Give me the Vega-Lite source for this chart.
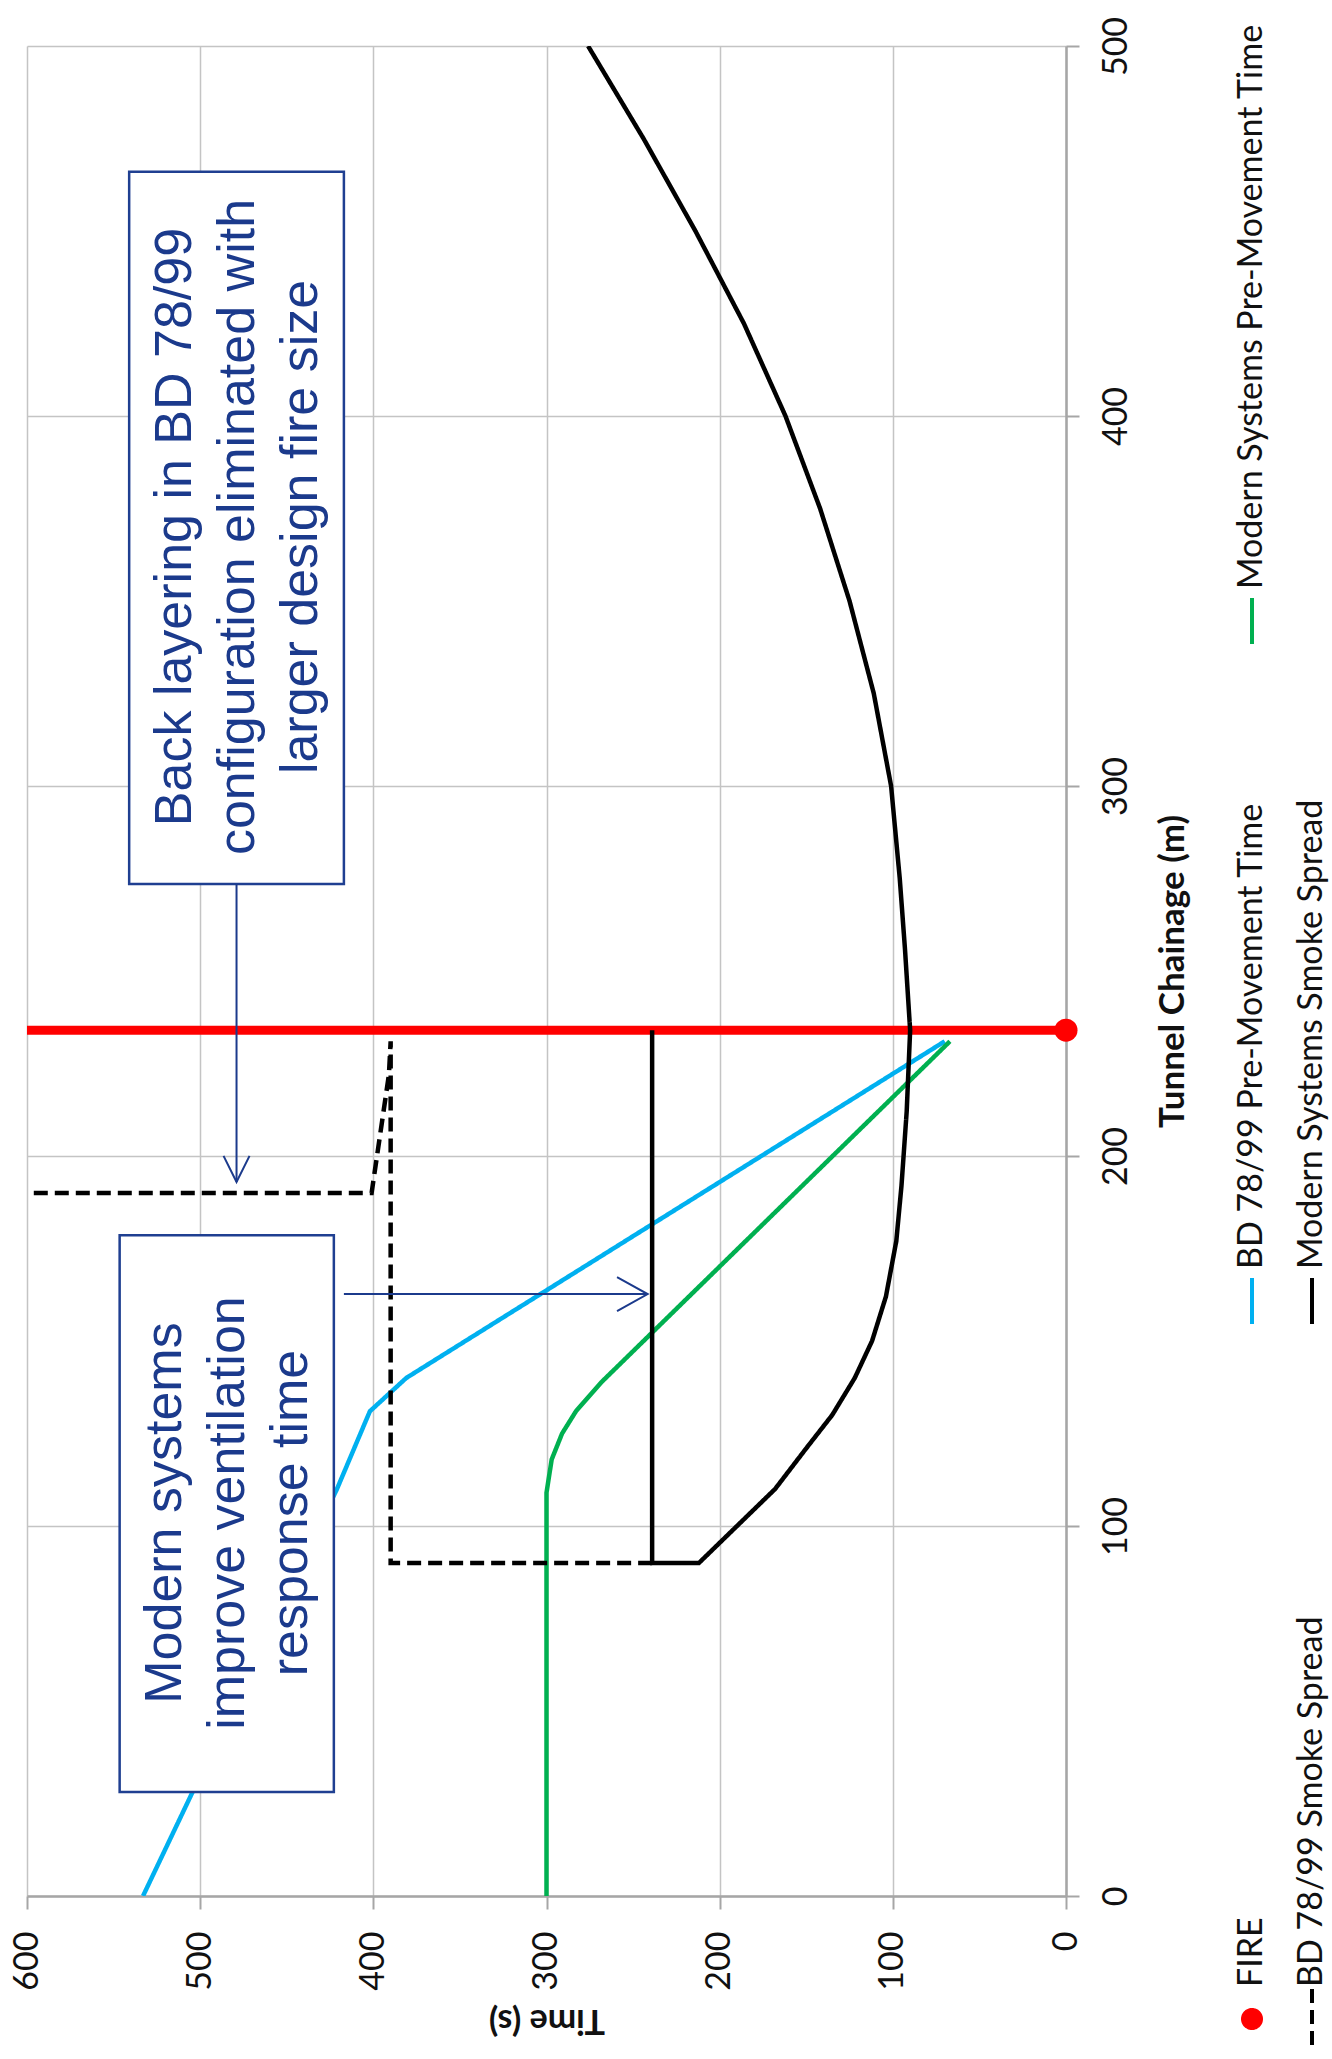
{
  "$schema": "https://vega.github.io/schema/vega-lite/v6.json",
  "width": 1039,
  "height": 1850,
  "autosize": {"type": "none"},
  "padding": {"left": 27, "top": 46, "right": 266, "bottom": 163},
  "background": "white",
  "config": {"view": {"stroke": null}, "font": "Lato"},
  "datasets": {
    "lines": [
      {"series": "BD 78/99 Pre-Movement Time", "c": 0, "t": 533, "seq": 1},
      {"series": "BD 78/99 Pre-Movement Time", "c": 110, "t": 421, "seq": 2},
      {"series": "BD 78/99 Pre-Movement Time", "c": 131, "t": 402, "seq": 3},
      {"series": "BD 78/99 Pre-Movement Time", "c": 140, "t": 381, "seq": 4},
      {"series": "BD 78/99 Pre-Movement Time", "c": 231, "t": 70, "seq": 5},
      {"series": "Modern Systems Pre-Movement Time", "c": 0, "t": 300, "seq": 1},
      {"series": "Modern Systems Pre-Movement Time", "c": 109, "t": 300, "seq": 2},
      {"series": "Modern Systems Pre-Movement Time", "c": 118, "t": 297, "seq": 3},
      {"series": "Modern Systems Pre-Movement Time", "c": 125, "t": 291, "seq": 4},
      {"series": "Modern Systems Pre-Movement Time", "c": 131, "t": 283, "seq": 5},
      {"series": "Modern Systems Pre-Movement Time", "c": 139, "t": 268, "seq": 6},
      {"series": "Modern Systems Pre-Movement Time", "c": 231, "t": 67, "seq": 7},
      {"series": "Modern Systems Smoke Spread", "c": 234, "t": 239, "seq": 1},
      {"series": "Modern Systems Smoke Spread", "c": 90, "t": 239, "seq": 2},
      {"series": "Modern Systems Smoke Spread", "c": 90, "t": 212, "seq": 3},
      {"series": "Modern Systems Smoke Spread", "c": 110, "t": 168, "seq": 4},
      {"series": "Modern Systems Smoke Spread", "c": 121, "t": 150, "seq": 5},
      {"series": "Modern Systems Smoke Spread", "c": 130, "t": 135, "seq": 6},
      {"series": "Modern Systems Smoke Spread", "c": 140, "t": 122, "seq": 7},
      {"series": "Modern Systems Smoke Spread", "c": 150, "t": 112, "seq": 8},
      {"series": "Modern Systems Smoke Spread", "c": 162, "t": 104, "seq": 9},
      {"series": "Modern Systems Smoke Spread", "c": 177, "t": 98, "seq": 10},
      {"series": "Modern Systems Smoke Spread", "c": 192, "t": 95, "seq": 11},
      {"series": "Modern Systems Smoke Spread", "c": 212, "t": 92, "seq": 12},
      {"series": "Modern Systems Smoke Spread", "c": 234, "t": 90, "seq": 13},
      {"series": "Modern Systems Smoke Spread", "c": 256, "t": 93, "seq": 14},
      {"series": "Modern Systems Smoke Spread", "c": 275, "t": 96, "seq": 15},
      {"series": "Modern Systems Smoke Spread", "c": 300, "t": 101, "seq": 16},
      {"series": "Modern Systems Smoke Spread", "c": 325, "t": 111, "seq": 17},
      {"series": "Modern Systems Smoke Spread", "c": 350, "t": 125, "seq": 18},
      {"series": "Modern Systems Smoke Spread", "c": 375, "t": 142, "seq": 19},
      {"series": "Modern Systems Smoke Spread", "c": 400, "t": 162, "seq": 20},
      {"series": "Modern Systems Smoke Spread", "c": 425, "t": 186, "seq": 21},
      {"series": "Modern Systems Smoke Spread", "c": 450, "t": 214, "seq": 22},
      {"series": "Modern Systems Smoke Spread", "c": 475, "t": 244, "seq": 23},
      {"series": "Modern Systems Smoke Spread", "c": 500, "t": 276, "seq": 24},
      {"series": "BD 78/99 Smoke Spread", "c": 90, "t": 239, "seq": 1},
      {"series": "BD 78/99 Smoke Spread", "c": 90, "t": 390, "seq": 2},
      {"series": "BD 78/99 Smoke Spread", "c": 231, "t": 390, "seq": 3},
      {"series": "BD 78/99 Smoke Spread", "c": 222, "t": 391, "seq": 4},
      {"series": "BD 78/99 Smoke Spread", "c": 190, "t": 401, "seq": 5},
      {"series": "BD 78/99 Smoke Spread", "c": 190, "t": 600, "seq": 6}
    ],
    "fire": [
      {"series": "FIRE", "c": 234, "t": 0, "tStart": 600}
    ]
  },
  "layer": [
    {
      "data": {"name": "fire"},
      "mark": {"type": "rule", "color": "#FF0000", "strokeWidth": 9},
      "encoding": {
        "x": {"field": "tStart", "type": "quantitative", "scale": {"domain": [0, 600], "reverse": true, "nice": false}},
        "x2": {"field": "t"},
        "y": {"field": "c", "type": "quantitative", "scale": {"domain": [0, 500], "nice": false}}
      }
    },
    {
      "data": {"name": "lines"},
      "mark": {"type": "line", "strokeWidth": 4.5, "clip": true},
      "encoding": {
        "x": {
          "field": "t", "type": "quantitative",
          "scale": {"domain": [0, 600], "reverse": true, "nice": false},
          "axis": {
            "title": "Time (s)", "values": [0, 100, 200, 300, 400, 500, 600],
            "labelAngle": -90, "labelAlign": "right", "labelBaseline": "middle",
            "labelFont": "Lato", "labelFontSize": 34, "labelColor": "#111111", "labelPadding": 22,
            "labelFlush": false, "labelOverlap": false,
            "tickSize": 13, "tickWidth": 2, "tickColor": "#a6a6a6",
            "domainColor": "#a6a6a6", "domainWidth": 2.5,
            "grid": true, "gridColor": "#c4c4c4", "gridWidth": 1.5,
            "titleFont": "Lato", "titleFontSize": 34, "titleFontWeight": "bold", "titleColor": "#111111",
            "titleAngle": 180, "titleBaseline": "bottom", "titlePadding": 12
          }
        },
        "y": {
          "field": "c", "type": "quantitative",
          "scale": {"domain": [0, 500], "nice": false},
          "axis": {
            "orient": "right", "title": "Tunnel Chainage (m)", "values": [0, 100, 200, 300, 400, 500],
            "labelAngle": -90, "labelAlign": "center", "labelBaseline": "top",
            "labelFont": "Lato", "labelFontSize": 34, "labelColor": "#111111", "labelPadding": 20,
            "labelFlush": false, "labelOverlap": false,
            "tickSize": 13, "tickWidth": 2, "tickColor": "#a6a6a6",
            "domainColor": "#a6a6a6", "domainWidth": 2.5,
            "grid": true, "gridColor": "#c4c4c4", "gridWidth": 1.5,
            "titleFont": "Lato", "titleFontSize": 35, "titleFontWeight": "bold", "titleColor": "#111111",
            "titleAngle": -90, "titleBaseline": "top", "titlePadding": 22
          }
        },
        "order": {"field": "seq", "type": "quantitative"},
        "strokeDash": {
          "field": "series", "type": "nominal", "legend": null,
          "scale": {
            "domain": ["Modern Systems Pre-Movement Time", "BD 78/99 Pre-Movement Time", "FIRE", " ", "Modern Systems Smoke Spread", "BD 78/99 Smoke Spread"],
            "range": [[1, 0], [1, 0], [1, 0], [1, 0], [1, 0], [14, 7]]
          }
        },
        "color": {
          "field": "series", "type": "nominal",
          "scale": {
            "domain": ["Modern Systems Pre-Movement Time", "BD 78/99 Pre-Movement Time", "FIRE", " ", "Modern Systems Smoke Spread", "BD 78/99 Smoke Spread"],
            "range": ["#00B050", "#00B0F0", "#FF0000", "#FFFFFF", "#000000", "#000000"]
          },
          "legend": {
            "orient": "none", "legendX": 1200, "legendY": 550,
            "direction": "vertical", "columns": 2, "title": null, "padding": 0,
            "rowPadding": 10, "columnPadding": 17,
            "symbolSize": 2116, "symbolStrokeWidth": 4, "symbolType": "stroke",
            "labelFont": "Lato", "labelFontSize": 34, "labelColor": "#111111",
            "labelOffset": -25, "labelLimit": 2000, "labelAlign": "left", "labelBaseline": "middle",
            "encode": {
              "labels": {
                "update": {
                  "angle": {"value": -90},
                  "dx": {"value": 32}
                }
              },
              "symbols": {
                "update": {
                  "shape": {"signal": "datum.value === 'FIRE' ? 'M0,-74.2M1,0A1,1,0,1,1,-1,0A1,1,0,1,1,1,0Z' : (datum.value === 'Modern Systems Pre-Movement Time' || datum.value === ' ') ? 'M0,-1L0,1' : datum.value === 'BD 78/99 Smoke Spread' ? 'M0,-29.05M0,-1.3L0,1.3' : 'M0,-27.43M0,-1L0,1'"},
                  "size": {"signal": "datum.value === 'FIRE' ? 324 : 2116"},
                  "fill": {"signal": "datum.value === 'FIRE' ? '#FF0000' : 'transparent'"},
                  "strokeDash": {"signal": "datum.value === 'BD 78/99 Smoke Spread' ? [8, 5] : [1, 0]"},
                  "opacity": {"signal": "datum.value === ' ' ? 0 : 1"}
                }
              }
            }
          }
        }
      }
    },
    {
      "data": {"name": "fire"},
      "mark": {"type": "point", "filled": true, "color": "#FF0000", "size": 530, "opacity": 1},
      "encoding": {
        "x": {"field": "t", "type": "quantitative", "scale": {"domain": [0, 600], "reverse": true, "nice": false}},
        "y": {"field": "c", "type": "quantitative", "scale": {"domain": [0, 500], "nice": false}}
      }
    },
    {
      "data": {"values": [{}]},
      "mark": {"type": "rect", "fill": "#FFFFFF", "stroke": "#1f3f91", "strokeWidth": 2.5},
      "encoding": {
        "x": {"datum": 541, "type": "quantitative"},
        "x2": {"datum": 417},
        "y": {"datum": 466, "type": "quantitative"},
        "y2": {"datum": 273.5}
      }
    },
    {
      "data": {"values": [{}]},
      "mark": {"type": "rect", "fill": "#FFFFFF", "stroke": "#1f3f91", "strokeWidth": 2.5},
      "encoding": {
        "x": {"datum": 546.5, "type": "quantitative"},
        "x2": {"datum": 422.8},
        "y": {"datum": 178.6, "type": "quantitative"},
        "y2": {"datum": 28.1}
      }
    },
    {
      "data": {"values": [{}]},
      "mark": {"type": "text", "text": ["Back layering in BD 78/99", "configuration eliminated with", "larger design fire size"], "angle": 270, "font": "Liberation Sans", "fontSize": 52, "lineHeight": 63, "align": "center", "baseline": "middle", "color": "#1b3a8c"},
      "encoding": {
        "x": {"datum": 514.5, "type": "quantitative"},
        "y": {"datum": 370, "type": "quantitative"}
      }
    },
    {
      "data": {"values": [{}]},
      "mark": {"type": "text", "text": ["Modern systems", "improve ventilation", "response time"], "angle": 270, "font": "Liberation Sans", "fontSize": 52, "lineHeight": 63, "align": "center", "baseline": "middle", "color": "#1b3a8c"},
      "encoding": {
        "x": {"datum": 520.5, "type": "quantitative"},
        "y": {"datum": 103.5, "type": "quantitative"}
      }
    },
    {
      "data": {"values": [{}]},
      "mark": {"type": "rule", "color": "#1b3a8c", "strokeWidth": 2},
      "encoding": {
        "x": {"datum": 479, "type": "quantitative"},
        "y": {"datum": 273.5, "type": "quantitative"},
        "y2": {"datum": 193}
      }
    },
    {
      "data": {"values": [{}]},
      "mark": {"type": "rule", "color": "#1b3a8c", "strokeWidth": 2},
      "encoding": {
        "x": {"datum": 417, "type": "quantitative"},
        "x2": {"datum": 241.6},
        "y": {"datum": 162.7, "type": "quantitative"}
      }
    },
    {
      "data": {"values": [{}]},
      "mark": {"type": "point", "shape": "M-1,-2L0,0L1,-2", "size": 676, "filled": false, "color": "#1b3a8c", "strokeWidth": 2, "opacity": 1},
      "encoding": {
        "x": {"datum": 479, "type": "quantitative"},
        "y": {"datum": 193, "type": "quantitative"}
      }
    },
    {
      "data": {"values": [{}]},
      "mark": {"type": "point", "shape": "M-1.8,-1L0,0L-1.8,1", "size": 1156, "filled": false, "color": "#1b3a8c", "strokeWidth": 2, "opacity": 1},
      "encoding": {
        "x": {"datum": 241.6, "type": "quantitative"},
        "y": {"datum": 162.7, "type": "quantitative"}
      }
    }
  ]
}
